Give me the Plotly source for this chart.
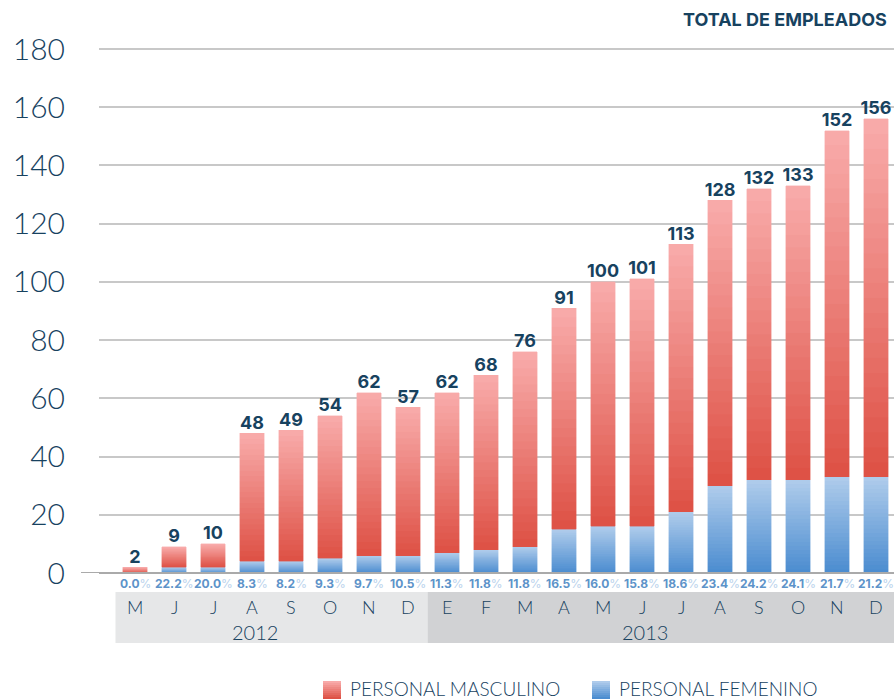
import plotly.graph_objects as go

# ---- data ----
months = ["M", "J", "J", "A", "S", "O", "N", "D",
          "E", "F", "M", "A", "M", "J", "J", "A", "S", "O", "N", "D"]
years = ["2012", "2013"]
totals = [2, 9, 10, 48, 49, 54, 62, 57,
          62, 68, 76, 91, 100, 101, 113, 128, 132, 133, 152, 156]
female = [0, 2, 2, 4, 4, 5, 6, 6,
          7, 8, 9, 15, 16, 16, 21, 30, 32, 32, 33, 33]
male = [t - f for t, f in zip(totals, female)]
pct_female = [0.0, 22.2, 20.0, 8.3, 8.2, 9.3, 9.7, 10.5,
              11.3, 11.8, 11.8, 16.5, 16.0, 15.8, 18.6, 23.4, 24.2, 24.1, 21.7, 21.2]
y_ticks = [0, 20, 40, 60, 80, 100, 120, 140, 160, 180]

NAVY = "#17425f"
LIGHT = "Lato"
x = list(range(len(months)))

def hex2rgb(h):
    h = h.lstrip("#")
    return tuple(int(h[i:i + 2], 16) for i in (0, 2, 4))

def lerp(c0, c1, t):
    a, b = hex2rgb(c0), hex2rgb(c1)
    return "rgb(%d,%d,%d)" % tuple(round(a[i] + (b[i] - a[i]) * t) for i in range(3))

MALE_BOT, MALE_TOP = "#de5246", "#f8aaa9"
FEM_BOT, FEM_TOP = "#4c8dd0", "#aecbeb"

K = 24  # vertical gradient slices
fig = go.Figure()
for series, c0, c1 in ((female, FEM_BOT, FEM_TOP), (male, MALE_BOT, MALE_TOP)):
    for k in range(K):
        col = lerp(c0, c1, k / (K - 1))
        fig.add_trace(go.Bar(
            x=x, y=[v / K for v in series],
            marker=dict(color=col, line=dict(width=0.4, color=col)),
            width=0.62, showlegend=False, hoverinfo="skip"))

# totals above bars
fig.add_trace(go.Scatter(
    x=x, y=totals, mode="text", text=[str(t) for t in totals],
    textposition="top center", cliponaxis=False,
    textfont=dict(family="Inter", size=18, color=NAVY, weight=700),
    showlegend=False, hoverinfo="skip"))

# pixel helpers (plot area: x 99..894, y 43..573(=0), 2.911 px per unit)
TOP_PX, BOT_PX = 43, 573
def px_x(px):
    return (px - 99) / 795

def px_y(py):
    return (BOT_PX - py) / (BOT_PX - TOP_PX)

annotations = []
# female percentage row
for i, p in enumerate(pct_female):
    annotations.append(dict(
        x=i, y=px_y(583), xref="x", yref="paper", showarrow=False,
        text=f"<b>{p:.1f}</b><span style='color:#b9d2ec'>%</span>",
        font=dict(family="Inter", size=12, color="#5d93c9"),
        xanchor="center", yanchor="middle"))
# month labels
for i, m in enumerate(months):
    annotations.append(dict(
        x=i, y=px_y(606.5), xref="x", yref="paper", showarrow=False, text=m,
        font=dict(family=LIGHT, size=18, color=NAVY, weight=300),
        xanchor="center", yanchor="middle"))
# year labels
for xc, yr in zip([3.08, 13.08], years):
    annotations.append(dict(
        x=xc, y=px_y(632), xref="x", yref="paper", showarrow=False, text=yr,
        font=dict(family=LIGHT, size=20, color=NAVY, weight=300),
        xanchor="center", yanchor="middle"))
# title
annotations.append(dict(
    x=px_x(889), y=px_y(20), xref="paper", yref="paper",
    showarrow=False, text="TOTAL DE EMPLEADOS",
    font=dict(family="Inter", size=18, color=NAVY, weight=700),
    xanchor="right", yanchor="middle"))

shapes = [
    dict(type="rect", xref="x", yref="paper", x0=-0.5, x1=7.5,
         y0=px_y(643), y1=px_y(592), fillcolor="#e6e7e8", line=dict(width=0), layer="below"),
    dict(type="rect", xref="x", yref="paper", x0=7.5, x1=19.6,
         y0=px_y(643), y1=px_y(592), fillcolor="#d1d2d4", line=dict(width=0), layer="below"),
    dict(type="line", xref="paper", yref="y", x0=px_x(81), x1=1, y0=0, y1=0,
         line=dict(color="#aaaaaa", width=2)),
]

# legend (manual swatches with gradient strips + text)
legend_items = [("PERSONAL MASCULINO", 323, MALE_BOT, MALE_TOP),
                ("PERSONAL FEMENINO", 592, FEM_BOT, FEM_TOP)]
for label, lx, c0, c1 in legend_items:
    S = 9
    for s in range(S):
        top = 681 + 18 * s / S
        bot = 681 + 18 * (s + 1) / S
        col = lerp(c1, c0, s / (S - 1))
        shapes.append(dict(type="rect", xref="paper", yref="paper",
                           x0=px_x(lx), x1=px_x(lx + 18), y0=px_y(bot), y1=px_y(top),
                           fillcolor=col, line=dict(width=0)))
    annotations.append(dict(
        x=px_x(lx + 25), y=px_y(688), xref="paper", yref="paper", showarrow=False,
        text=label, xanchor="left", yanchor="middle",
        font=dict(family=LIGHT, size=19, color=NAVY, weight=300)))

fig.update_layout(
    width=894, height=699,
    margin=dict(l=99, r=0, t=TOP_PX, b=699 - BOT_PX, pad=0),
    paper_bgcolor="white", plot_bgcolor="white",
    barmode="stack", bargap=0.38,
    showlegend=False,
    xaxis=dict(range=[-0.923, 19.46], showticklabels=False, showgrid=False,
               zeroline=False, showline=False, ticks="", fixedrange=True),
    yaxis=dict(range=[0, (BOT_PX - TOP_PX) / 2.911], tickvals=y_ticks, showgrid=True,
               gridcolor="#c8c8c8", gridwidth=2, zeroline=True,
               zerolinecolor="#aaaaaa", zerolinewidth=2, showline=False,
               ticks="", ticklabelstandoff=33, layer="above traces",
               tickfont=dict(family=LIGHT, size=30, color=NAVY, weight=300)),
    annotations=annotations, shapes=shapes,
)

fig.write_html(
    "out.html",
    config={"displayModeBar": False},
    post_script="document.body.style.margin='0';document.body.style.overflow='hidden';",
)
